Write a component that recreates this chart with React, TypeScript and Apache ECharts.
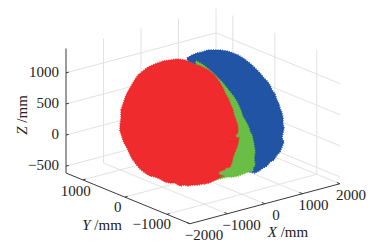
import React, { useEffect, useRef } from "react";
import * as echarts from "echarts";

const xTicks = [-2000, -1000, 0, 1000, 2000];
const yTicks = [1000, 0, -1000];
const zTicks = [1000, 500, 0, -500];

const X_MIN = -2000, X_MAX = 2000, Y_MAX = 1400, Y_MIN = -1550, Z_MIN = -610, Z_MAX = 1390;

// Cloud silhouettes (image pixels)
const blueCloud = [
  [187,58],[192,55],[197,53],[202,52],[208,50],[214,50],[220,50],[227,51],[233,53],[238,55],[243,58],[247,61],[252,65],[257,70],[260,73],[264,78],[267,81],[270,85],[272,90],[275,94],[277,100],[279,104],[280,108],[282,113],[283,118],[283,124],[284,128],[283,133],[282,138],[284,142],[282,147],[280,152],[277,155],[274,160],[270,162],[267,166],[263,168],[259,171],[255,173],[250,172],[240,170],[200,100],
];
const greenCloud = [
  [196,61],[200,63],[206,67],[213,73],[217,77],[222,82],[226,87],[230,92],[234,97],[237,102],[239,106],[241,111],[243,117],[245,120],[247,124],[249,128],[250,132],[252,135],[253,140],[254,145],[255,152],[254,158],[255,165],[253,168],[253,171],[248,172],[243,174],[238,176],[233,177],[228,177],[223,178],[216,180],[210,182],[205,184],[200,150],
];
const redCloud = [
  [121,110],[123,104],[125,98],[127,93],[130,88],[134,81],[138,75],[143,71],[148,67],[155,64],[163,61],[170,60],[177,59],[185,60],[190,62],[195,64],[200,66],[204,68],[208,70],[212,73],[215,76],[218,80],[220,83],[223,88],[225,93],[228,98],[230,103],[233,110],[234,115],[236,120],[237,123],[238,128],[238,132],[236,135],[235,137],[239,138],[238,143],[237,147],[235,152],[233,157],[232,162],[230,167],[226,168],[224,170],[220,171],[218,174],[223,176],[219,178],[215,180],[211,182],[208,183],[203,184],[197,185],[192,185],[188,186],[184,185],[180,186],[175,183],[170,183],[165,182],[160,179],[155,177],[150,176],[145,173],[140,169],[135,163],[131,157],[127,148],[124,143],[122,137],[120,131],[120,125],[121,118],
];
const cloudColors = ["#2254a5", "#6abd45", "#ef2b2d"];
const clouds = [blueCloud, greenCloud, redCloud];

const project = (x: number, y: number, z: number): number[] => [
  66 + (x - X_MIN) * 0.0375 + (Y_MAX - y) * 0.042,
  173 - (x - X_MIN) * 0.01 + (Y_MAX - y) * 0.0172 - (z - Z_MIN) * 0.0622,
];

type Seg = number[][];
const gridSegs: Seg[] = [];
zTicks.forEach((z) => {
  gridSegs.push([[X_MIN, Y_MAX, z], [X_MAX, Y_MAX, z]]);
  gridSegs.push([[X_MAX, Y_MAX, z], [X_MAX, Y_MIN, z]]);
});
xTicks.slice(1).forEach((x) => {
  gridSegs.push([[x, Y_MAX, Z_MIN], [x, Y_MAX, Z_MAX]]);
  gridSegs.push([[x, Y_MAX, Z_MIN], [x, Y_MIN, Z_MIN]]);
});
yTicks.forEach((y) => {
  gridSegs.push([[X_MAX, y, Z_MIN], [X_MAX, y, Z_MAX]]);
  gridSegs.push([[X_MIN, y, Z_MIN], [X_MAX, y, Z_MIN]]);
});

const axisSegs: Seg[] = [
  [[X_MIN, Y_MAX, Z_MIN], [X_MIN, Y_MAX, Z_MAX]],
  [[X_MIN, Y_MAX, Z_MIN], [X_MIN, Y_MIN, Z_MIN]],
  [[X_MIN, Y_MIN, Z_MIN], [X_MAX, Y_MIN, Z_MIN]],
];
zTicks.forEach((z) => axisSegs.push([[X_MIN, Y_MAX, z], [X_MIN + 75, Y_MAX, z]]));
yTicks.forEach((y) => axisSegs.push([[X_MIN, y, Z_MIN], [X_MIN + 75, y, Z_MIN]]));
xTicks.forEach((x) => axisSegs.push([[x, Y_MIN, Z_MIN], [x, Y_MIN + 70, Z_MIN]]));

const fmt = (v: number) => (v < 0 ? "\u2212" + Math.abs(v) : String(v));

const tickLabels: { text: string; p: number[]; dx: number; dy: number; align: string }[] = [
  ...zTicks.map((z) => ({ text: fmt(z), p: [X_MIN, Y_MAX, z], dx: -7, dy: -1, align: "right" })),
  ...yTicks.map((y) => ({ text: fmt(y), p: [X_MIN, y, Z_MIN], dx: y === 0 ? -7 : (y > 0 ? -7 : -15), dy: y === 0 ? 10 : y > 0 ? 11 : 10, align: "center" })),
  ...xTicks.map((x) => ({ text: fmt(x), p: [x, Y_MIN, Z_MIN], dx: x < 0 ? 14 : 11, dy: 11, align: "center" })),
];

const axisNames = [
  { name: "Z", unit: " /mm", x: 22, y: 115, rotation: Math.PI / 2 },
  { name: "Y", unit: " /mm", x: 102, y: 225, rotation: 0 },
  { name: "X", unit: " /mm", x: 288, y: 232, rotation: 0 },
];

const FONT = "Liberation Serif";

const lineItem = (seg: Seg, api: any, stroke: string, lineWidth: number) => {
  const a = api.coord(project(seg[0][0], seg[0][1], seg[0][2]));
  const b = api.coord(project(seg[1][0], seg[1][1], seg[1][2]));
  return { type: "line", shape: { x1: a[0], y1: a[1], x2: b[0], y2: b[1] }, style: { stroke, lineWidth } };
};

const indexData = (n: number) => Array.from({ length: n }, (_, i) => [i]);

export default function App() {
  const ref = useRef<HTMLDivElement>(null);
  useEffect(() => {
    document.body.style.margin = "0";
    const chart = echarts.init(ref.current!, undefined, { renderer: "svg" });
    chart.setOption({
      animation: false,
      backgroundColor: "#ffffff",
      grid: { left: 0, right: 0, top: 0, bottom: 0 },
      xAxis: { type: "value", min: 0, max: 383, show: false },
      yAxis: { type: "value", min: 0, max: 245, inverse: true, show: false },
      series: [
        {
          type: "custom", silent: true, clip: false, z: 1, data: indexData(gridSegs.length),
          renderItem: (p: any, api: any) => lineItem(gridSegs[p.dataIndex], api, "#e2e2e2", 1),
        },
        {
          type: "custom", silent: true, clip: false, z: 2, data: indexData(axisSegs.length),
          renderItem: (p: any, api: any) => lineItem(axisSegs[p.dataIndex], api, "#3a3a3a", 1),
        },
        {
          type: "custom", silent: true, clip: false, z: 3, data: indexData(clouds.length),
          renderItem: (p: any, api: any) => ({
            type: "polygon",
            shape: { points: clouds[p.dataIndex].map((q) => api.coord(q)) },
            style: {
              fill: cloudColors[p.dataIndex],
              stroke: cloudColors[p.dataIndex],
              lineWidth: 1.5,
              lineDash: [1, 1.3],
            },
          }),
        },
        {
          type: "custom", silent: true, clip: false, z: 4, data: indexData(tickLabels.length),
          renderItem: (p: any, api: any) => {
            const l = tickLabels[p.dataIndex];
            const c = api.coord(project(l.p[0], l.p[1], l.p[2]));
            return {
              type: "text", x: c[0] + l.dx, y: c[1] + l.dy,
              style: { text: l.text, fontFamily: FONT, fontSize: 15, fill: "#222", align: l.align, verticalAlign: "middle" },
            };
          },
        },
        {
          type: "custom", silent: true, clip: false, z: 4, data: indexData(axisNames.length),
          renderItem: (p: any, api: any) => {
            const n = axisNames[p.dataIndex];
            const c = api.coord([n.x, n.y]);
            return {
              type: "text", x: c[0], y: c[1], rotation: n.rotation,
              style: {
                text: `{i|${n.name}}{u|${n.unit}}`, align: "center", verticalAlign: "middle",
                rich: {
                  i: { fontFamily: FONT, fontStyle: "italic", fontSize: 15, fill: "#222" },
                  u: { fontFamily: FONT, fontSize: 15, fill: "#222" },
                },
              },
            };
          },
        },
      ],
    });
    return () => chart.dispose();
  }, []);
  return <div ref={ref} style={{ width: 383, height: 245 }} />;
}
